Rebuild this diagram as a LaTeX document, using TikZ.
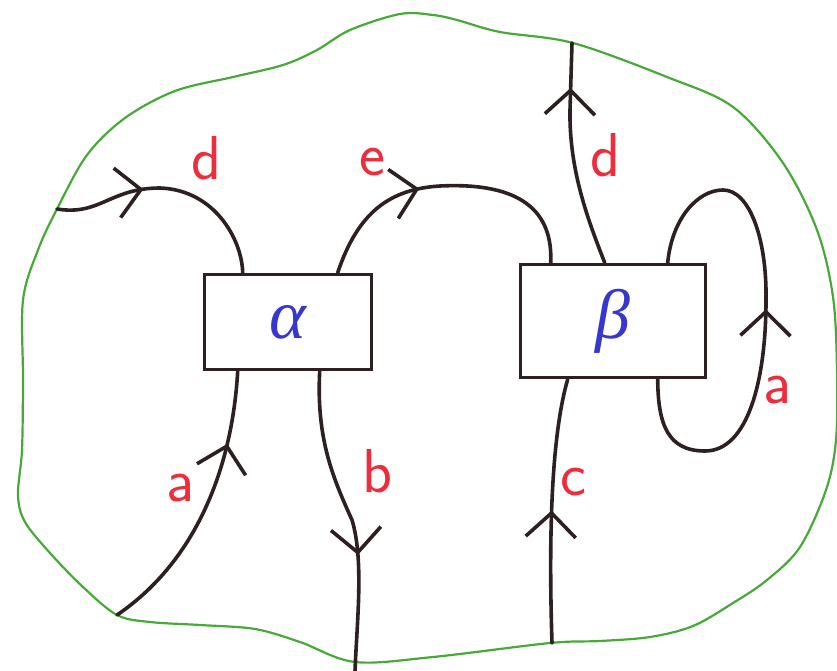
\documentclass[tikz,border=0pt]{standalone}
\usepackage{fontspec}
\newfontfamily\grk{Liberation Serif}
\usetikzlibrary{arrows.meta,decorations.markings,calc}
\definecolor{ink}{RGB}{45,32,32}
\definecolor{lblred}{RGB}{238,45,60}
\definecolor{lblblue}{RGB}{55,55,205}
\definecolor{bnd}{RGB}{70,170,55}
\tikzset{
  wire/.style={draw=ink, line width=3.6pt, line cap=round, line join=round},
  arrowat/.style={postaction={decorate, decoration={markings,
      mark=at position #1 with {\arrow[ink, line width=3.6pt]{Straight Barb[length=24pt,width=50pt]}}}}},
  boxnode/.style={draw=ink, line width=3.6pt, rectangle, inner sep=0pt,
      text=lblblue, font=\grk\itshape\fontsize{70}{70}\selectfont},
  lbl/.style={text=lblred, inner sep=0pt, font=\sffamily\fontsize{62}{62}\selectfont},
  boundary/.style={draw=bnd, line width=2.2pt}
}
\begin{document}
\begin{tikzpicture}[x=1pt,y=-1pt]
\useasboundingbox (0,0) rectangle (837,671);
% boundary
\draw[boundary] plot[smooth cycle, tension=0.55] coordinates {
 (117,615) (83,587) (50,553) (25,522) (18,495) (22,450) (23,380) (23,300)
 (38,250) (57,209) (87,155) (125,118) (175,91) (233,77) (283,65) (317,50)
 (350,30) (400,14) (433,15) (457,20) (500,32) (573,43) (667,77) (733,107)
 (783,163) (817,230) (833,297) (837,370) (836,440) (826,490) (800,547)
 (767,580) (733,603) (693,626) (650,637) (600,641) (550,643) (433,657)
 (355,662) (300,642) (255,629) (200,625) (150,622)};
% boxes
\node[boxnode, minimum width=167pt, minimum height=95pt] (alpha) at (288,322) {α};
\node[boxnode, minimum width=185pt, minimum height=113pt] (beta) at (613,321) {β};
% free ends on the boundary
\coordinate (dIn) at (57,209);
\coordinate (dOut) at (572,43);
\coordinate (aIn) at (117,615);
\coordinate (bOut) at (355,671);
\coordinate (cIn) at (552,643);
% attachment points
\coordinate (aTopL) at ($(alpha.north west)+(40,0)$);
\coordinate (aTopR) at ($(alpha.north west)+(135,0)$);
\coordinate (aBotL) at ($(alpha.south west)+(35,0)$);
\coordinate (aBotR) at ($(alpha.south west)+(117,0)$);
\coordinate (bTopL) at ($(beta.north west)+(32,0)$);
\coordinate (bTopM) at ($(beta.north west)+(86,0)$);
\coordinate (bTopR) at ($(beta.north west)+(149,0)$);
\coordinate (bBotL) at ($(beta.south west)+(49,0)$);
\coordinate (bBotR) at ($(beta.south west)+(139,0)$);
% strands
\draw[wire, arrowat=0.38] (dIn) .. controls (100,216) and (110,188) .. (160,188)
      .. controls (215,190) and (242,240) .. (aTopL);
\draw[wire, arrowat=0.41] (aTopR) .. controls (358,212) and (390,189) .. (440,186)
      .. controls (522,182) and (553,212) .. (bTopL);
\draw[wire, arrowat=0.8] (bTopM) .. controls (588,220) and (569,170) .. (570,110) -- (dOut);
\draw[wire, arrowat=0.53] (bBotR) .. controls (658,425) and (668,451) .. (705,451)
      .. controls (748,451) and (766,380) .. (766,300)
      .. controls (767,240) and (750,190) .. (723,190)
      .. controls (698,190) and (672,218) .. (bTopR);
\draw[wire, arrowat=0.74] (aIn) .. controls (195,562) and (232,470) .. (aBotL);
\draw[wire, arrowat=0.62] (aBotR) .. controls (316,440) and (334,480) .. (352,520)
      .. controls (364,560) and (357,620) .. (bOut);
\draw[wire, arrowat=0.5] (cIn) .. controls (548,520) and (553,430) .. (bBotL);
% labels
\node[lbl] (ld1) at (207,158) {d};
\node[lbl] (le) at (372,162) {e};
\node[lbl] (ld2) at (605,155) {d};
\node[lbl] (la1) at (180,488) {a};
\node[lbl] (lb) at (377,471) {b};
\node[lbl] (lc) at (573,482) {c};
\node[lbl] (la2) at (777,390) {a};
\end{tikzpicture}
\end{document}
